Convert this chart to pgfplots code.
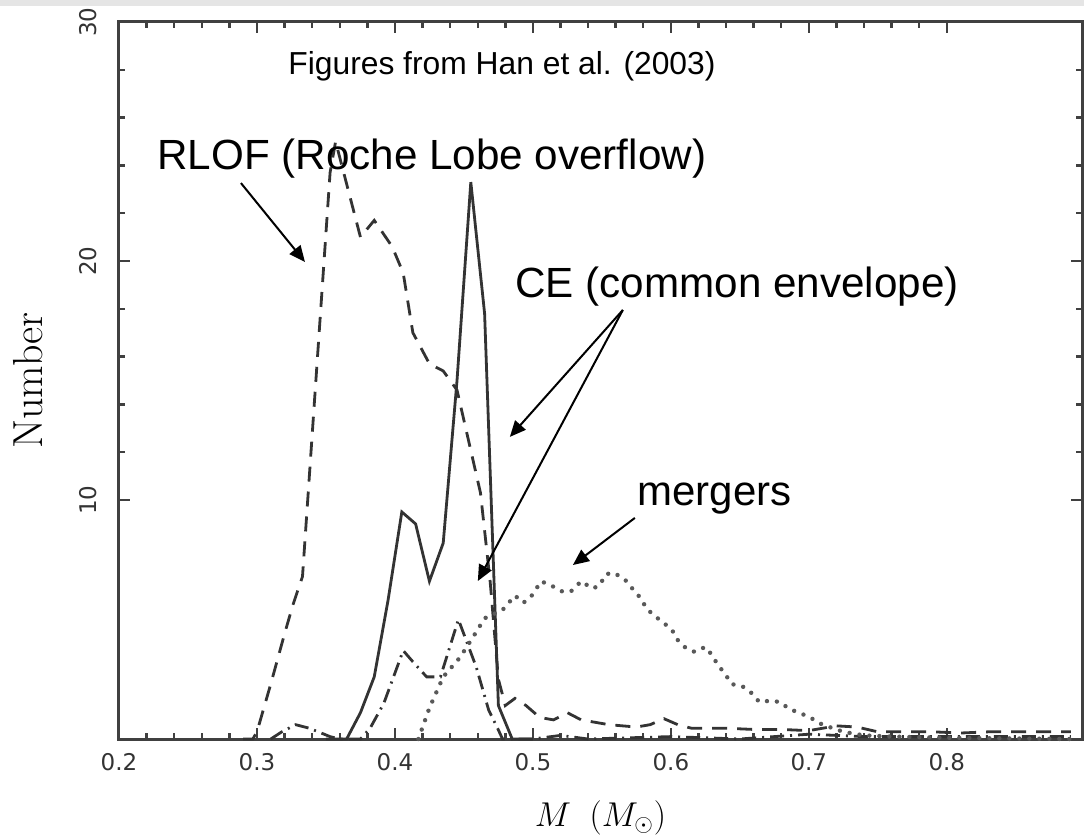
\documentclass[border=0pt]{standalone}
\usepackage{pgfplots}
\pgfplotsset{compat=1.18}
\usepackage{fontspec}
\newfontfamily\arial{Liberation Sans}
\newfontfamily\ticks{DejaVu Sans}
\usetikzlibrary{arrows.meta}

\pgfplotstableread{
x y
0.290 0
0.297 0
0.300 0.3
0.310 2.3
0.320 4.4
0.326 5.6
0.333 6.8
0.353 23.7
0.357 25.0
0.375 21.0
0.385 21.7
0.398 20.6
0.406 19.5
0.413 17.0
0.425 15.7
0.435 15.4
0.445 14.6
0.462 10.3
0.469 6.6
0.475 2.5
0.480 1.4
0.487 1.7
0.495 1.4
0.505 0.9
0.515 0.8
0.525 1.1
0.535 0.8
0.545 0.7
0.555 0.6
0.565 0.55
0.575 0.5
0.585 0.6
0.595 0.85
0.605 0.6
0.615 0.45
0.625 0.45
0.640 0.45
0.660 0.4
0.680 0.4
0.700 0.35
0.720 0.55
0.735 0.5
0.750 0.3
0.770 0.3
0.790 0.3
0.810 0.25
0.830 0.3
0.850 0.3
0.870 0.3
0.890 0.3
}\rlof

\pgfplotstableread{
x y
0.350 0
0.365 0
0.375 1.1
0.385 2.6
0.395 5.8
0.405 9.5
0.415 9.0
0.425 6.6
0.435 8.2
0.445 15.0
0.455 23.3
0.465 17.8
0.475 1.4
0.485 0
0.500 0
}\ce

\pgfplotstableread{
x y
0.310 0
0.318 0.3
0.328 0.6
0.338 0.45
0.353 0.1
0.360 0
0.375 0
0.382 0.45
0.392 1.5
0.399 2.6
0.406 3.7
0.415 3.1
0.423 2.6
0.433 2.6
0.446 5.0
0.459 3.0
0.468 1.2
0.474 0.5
0.478 0
0.500 0
0.520 0.15
0.540 0
0.600 0.1
0.650 0
0.700 0.2
0.740 0.1
0.800 0.1
0.890 0.1
}\ced

\pgfplotstableread{
x y
0.417 0
0.425 1.3
0.435 2.6
0.447 3.4
0.457 4.3
0.465 5.05
0.478 5.4
0.487 6.0
0.493 5.7
0.498 5.9
0.506 6.6
0.514 6.4
0.522 6.15
0.528 6.2
0.535 6.6
0.543 6.3
0.548 6.4
0.553 6.9
0.559 6.95
0.567 6.65
0.572 6.3
0.578 5.9
0.582 5.5
0.587 5.2
0.594 4.9
0.601 4.55
0.604 4.2
0.610 3.85
0.617 3.65
0.625 3.85
0.630 3.5
0.634 3.1
0.639 2.75
0.644 2.3
0.652 2.2
0.659 1.9
0.664 1.55
0.672 1.6
0.679 1.55
0.686 1.25
0.693 1.1
0.701 0.9
0.708 0.65
0.715 0.5
0.725 0.3
0.740 0.15
0.760 0.1
0.800 0.05
0.890 0
}\mergers

\begin{document}
\begin{tikzpicture}
\begin{axis}[
  scale only axis, width=481.5bp, height=358.5bp,
  xmin=0.2, xmax=0.898, ymin=0, ymax=30,
  clip=false,
  xtick={0.2,0.3,0.4,0.5,0.6,0.7,0.8},
  xticklabels={0.2,0.3,0.4,0.5,0.6,0.7,0.8},
  ytick={10,20,30},
  yticklabels={10,20,30},
  minor x tick num=4, minor y tick num=4,
  tick align=inside,
  major tick length=5.5bp, minor tick length=3bp,
  axis line style={line width=1.5bp, black!75},
  tick style={line width=1.2bp, black!75},
  /pgf/number format/assume math mode=true,
  xticklabel style={font=\ticks\fontsize{11.5bp}{14bp}\selectfont, text=black!80, anchor=north, inner sep=0pt},
  xticklabel shift=7bp,
  yticklabel style={font=\ticks\fontsize{11.5bp}{14bp}\selectfont, text=black!80, rotate=90, anchor=south, inner sep=0pt},
  yticklabel shift=11bp,
  xlabel={$M\enspace(M_{\odot})$},
  xlabel style={font=\fontsize{18.5bp}{22bp}\selectfont, at={([yshift=-43.5bp]rel axis cs:0.5,0)}, anchor=base},
  ylabel={Number},
  ylabel style={font=\fontsize{21bp}{24bp}\selectfont, at={([xshift=-45.5bp]rel axis cs:0,0.5)}, rotate=0, anchor=center},
]
\addplot[black!80, line width=1.4bp, dash pattern=on 7.5bp off 5bp] table[x=x,y=y] {\rlof};
\addplot[black!80, line width=1.4bp] table[x=x,y=y] {\ce};
\addplot[black!80, line width=1.4bp, dash pattern=on 7bp off 3bp on 1bp off 3bp] table[x=x,y=y] {\ced};
\addplot[black!65, line width=2.2bp, line cap=round, dash pattern=on 0bp off 5bp] table[x=x,y=y] {\mergers};

\node[font=\arial\fontsize{15.9bp}{18bp}\selectfont, anchor=base west, inner sep=0pt] at (axis cs:0.3225,27.82) {Figures from Han et al. (2003)};
\node[font=\arial\fontsize{21.1bp}{24bp}\selectfont, anchor=base west, inner sep=0pt] at (axis cs:0.2275,23.81) {RLOF (Roche Lobe overflow)};
\node[font=\arial\fontsize{21.1bp}{24bp}\selectfont, anchor=base west, inner sep=0pt] at (axis cs:0.487,18.49) {CE (common envelope)};
\node[font=\arial\fontsize{21bp}{24bp}\selectfont, anchor=base west, inner sep=0pt] at (axis cs:0.5754,9.79) {mergers};

\draw[line width=1bp, -{Triangle[length=8bp,width=7bp]}] (axis cs:0.2884,23.26) -- (axis cs:0.3348,19.96);
\draw[line width=1bp, -{Triangle[length=8bp,width=7bp]}] (axis cs:0.5652,17.95) -- (axis cs:0.4833,12.64);
\draw[line width=1bp, -{Triangle[length=8bp,width=7bp]}] (axis cs:0.5652,17.95) -- (axis cs:0.4601,6.61);
\draw[line width=1bp, -{Triangle[length=8bp,width=7bp]}] (axis cs:0.5739,9.25) -- (axis cs:0.529,7.28);

\coordinate (ll) at (rel axis cs:0,0);
\coordinate (ur) at (rel axis cs:1,1);
\end{axis}
\path (ll) ++(-59.5bp,-49.5bp) coordinate (A);
\path (ur) ++(1bp,11bp) coordinate (B);
\path (ll|-ur) ++(-59.5bp,8bp) coordinate (C);
\fill[black!10] (C) rectangle (B);
\pgfresetboundingbox
\path (A) rectangle (B);
\end{tikzpicture}
\end{document}
